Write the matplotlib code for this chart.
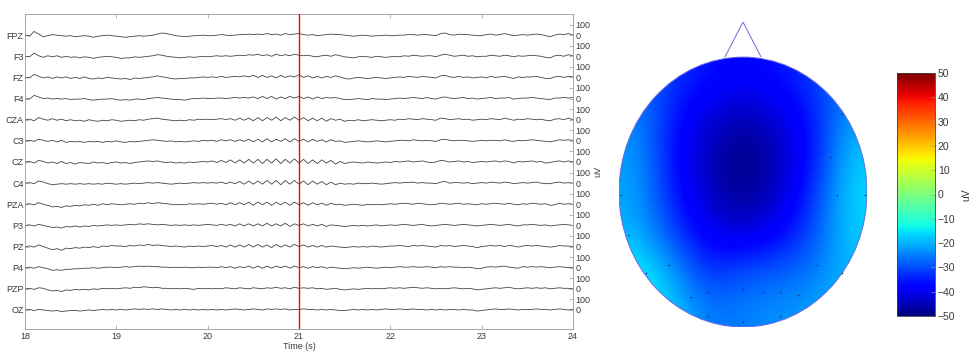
import numpy as np
import matplotlib
matplotlib.use("Agg")
import matplotlib.pyplot as plt
from matplotlib.patches import Ellipse, Polygon

plt.rcParams['font.family'] = ['Liberation Sans', 'DejaVu Sans']

# ---------------- data ----------------
channels = ["FPZ", "F3", "FZ", "F4", "CZA", "C3", "CZ", "C4",
            "PZA", "P3", "PZ", "P4", "PZP", "OZ"]
t_start, t_end, dt = 18.0, 24.0, 0.05
cursor_time = 21.0
channel_spacing = 200  # uV between traces

FPZ = [0, -10, 35, 10, -15, -5, 5, 0, -5, -10, -5,
       -15, -10, -5, -10, -20, -10, -5, 0, -5, -10,
       -15, -20, -15, -10, -5, -10, -5, 0, 10, 20,
       15, 5, -5, -10, -15, -10, -5, -5, 0, -5,
       -5, 0, 5, 0, -5, 0, 5, 5, 10, 5,
       10, 5, 15, 5, 10, 0, 15, 5, 10, 15,
       5, 0, 5, -5, 0, 5, 10, 5, 5, 0,
       -5, -10, -5, 0, -5, -10, -5, -5, 0, -5,
       -5, 0, 0, 5, 5, 0, 5, 5, 0, -5,
       15, 20, 5, 0, 10, 5, 5, 0, -5, -5,
       5, 10, 0, 5, 15, 5, -5, 0, 5, 0,
       5, 10, 5, -5, -15, 0, 10, 5, 15, 0]
F3 = [0, -5, 30, 5, -10, 5, -5, 5, -10, 0, -10,
      -5, -15, -5, -10, -20, -10, -5, 0, -5, -10,
      -20, -15, -15, -5, -10, -5, 0, 5, 15, 10,
      0, -5, -10, -15, -10, -5, -10, -5, 0, -5,
      0, 5, 0, 5, 0, 5, 10, 5, 15, 10,
      20, 5, 15, 0, 20, 5, 15, 5, 20, 10,
      5, 10, 0, -5, 5, 10, 0, 15, 5, -5,
      -10, -15, -5, 0, -5, -10, 0, -5, -10, -5,
      0, -5, 5, 0, 10, 5, 0, 5, 5, -5,
      10, 20, 10, 0, 5, 10, 0, 5, -5, 0,
      0, 10, 5, 0, 10, 5, -5, 5, 0, 5,
      10, 5, 0, -10, -15, 5, 10, 0, 15, 5]
FZ = [0, -5, 30, 10, -5, 5, -10, 5, -5, 5, -10,
      0, -10, 5, -10, -15, -5, -10, 0, -5, -10,
      -15, -10, -20, -5, -10, -5, 0, 5, 15, 5,
      0, -10, -15, -10, -10, -5, -5, 0, 5, 0,
      5, 0, 10, 0, 5, 10, 5, 15, 5, 20,
      0, 20, 0, 15, -5, 20, 0, 15, 5, 25,
      0, 15, -5, 10, -5, 10, 0, 15, 5, -10,
      -15, -5, 0, -5, -10, -5, 0, -5, -10, -5,
      0, 5, 0, 10, 5, 0, 10, 5, 0, -5,
      15, 20, 5, 0, 10, 0, 5, -5, 0, 5,
      -5, 10, 0, 5, 10, 0, -10, 5, 0, 5,
      5, 10, 0, -10, -10, 5, 10, 0, 10, 5]
F4 = [0, -5, 30, 15, 0, 5, -5, 0, -5, 0, -10,
      -5, -5, 0, -10, -15, -10, -5, -5, 0, -10,
      -15, -10, -15, -5, -5, -10, 0, 5, 10, 5,
      0, -5, -10, -10, -15, -5, 0, 0, 5, 0,
      0, 5, 5, 0, 5, 10, 5, 10, 5, 15,
      0, 20, 0, 20, -5, 15, 0, 20, 5, 20,
      0, 15, -5, 15, 0, 10, 5, 10, 0, -10,
      -10, -5, 0, -5, -10, 0, -5, -5, -10, -5,
      0, 5, 0, 5, 10, 5, 0, 10, 0, -5,
      10, 15, 5, 0, 5, 10, 0, 5, -5, 0,
      5, 10, 0, 5, 5, 10, -5, 0, 5, 5,
      10, 5, 0, -5, -10, 5, 5, 10, 5, 10]
CZA = [0, 5, -10, 20, 5, -5, 10, -5, 5, -10, 0,
       -10, -5, -15, 0, -10, -15, -5, -10, 0, -5,
       -15, -10, -5, -10, 0, -5, 5, 10, 15, 5,
       0, -5, -10, -5, -10, 0, -5, 5, 0, 5,
       0, 5, 10, 0, 10, -5, 15, -5, 15, -10,
       20, -10, 20, -5, 25, -10, 20, -5, 25, -5,
       20, -10, 15, -10, 15, -15, 10, -5, 5, -15,
       -5, -10, 0, -10, -5, 0, -5, -10, -5, 0,
       -5, 5, 0, 10, 5, 0, 10, 5, 0, -5,
       15, 10, 0, 5, 10, 0, 5, -5, 0, 5,
       0, 10, 5, 0, 15, 5, -5, 5, 0, 10,
       5, 0, 5, -5, -10, 5, 10, 0, 15, 0]
C3 = [0, 5, -5, 15, 5, -5, 5, -10, 5, -15, -5,
      -10, -5, -15, -5, -10, -5, -15, -5, -10, 0,
      -10, -15, -5, -10, -5, 0, 5, 10, 5, 0,
      -5, 0, -10, -5, -10, -5, 0, -5, 5, 0,
      5, -5, 10, 0, 10, -5, 10, -5, 15, -10,
      15, -10, 20, -10, 15, -5, 20, -10, 20, -5,
      15, -10, 15, -5, 10, -10, 10, -5, 0, -15,
      -10, -5, 0, -5, -10, -5, 0, -5, -10, -5,
      0, 5, 5, 0, 10, 5, 0, 5, 0, -5,
      10, 15, 5, 0, 5, 5, 0, -5, 0, 5,
      0, 5, 5, 0, 10, 0, -5, 5, 0, 5,
      10, 5, 0, -5, -10, 0, 10, 5, 10, 5]
CZ = [0, 5, -10, 15, 5, -10, 0, -15, 5, -15, -5,
      -20, -5, -10, -15, 0, -10, -5, -15, -5, 0,
      -10, -5, -15, -5, 0, 5, 10, 5, 10, 0,
      -5, 0, -10, -5, -10, 0, -5, 0, 5, 0,
      10, -5, 15, -5, 20, -10, 20, -10, 25, -10,
      25, -15, 25, -10, 30, -15, 25, -10, 30, -10,
      25, -15, 20, -15, 20, -10, 15, -20, 5, -15,
      -5, 0, -5, -10, 0, -5, -10, -5, 0, -5,
      5, 0, 5, 10, 0, 5, 10, 0, -5, 0,
      15, 10, 0, 5, 10, 0, 5, -5, 0, 5,
      0, 5, 10, 0, 10, 5, -10, 5, 0, 5,
      10, 0, 5, -10, -5, 5, 10, 0, 10, 0]
C4 = [0, 5, -5, 20, 10, -5, -15, -10, -5, -10, -5,
      -10, -5, -10, -5, -10, -5, -10, 0, -5, -10,
      -5, -10, -5, 0, -5, 0, 5, 0, 5, 0,
      -5, -10, -5, 0, -5, 0, 5, 0, 5, 0,
      5, 0, 10, -5, 10, -5, 15, -10, 20, -10,
      20, -10, 25, -10, 25, -15, 25, -10, 25, -10,
      20, -15, 20, -10, 15, -15, 10, -15, 0, -10,
      -5, -10, 0, -5, -5, 0, -5, -10, -5, 0,
      5, 0, 5, 5, 10, 0, 5, 0, 0, -5,
      10, 15, 0, 5, 5, 0, 5, -5, 0, 5,
      0, 10, 5, 0, 10, 5, -5, 0, 5, 0,
      5, 10, 0, -5, -5, 5, 10, 0, 5, 0]
PZA = [0, 5, -5, 15, 0, -10, -25, -20, -30, -15, -20,
       -10, -15, -5, -10, 0, -10, 5, -5, 5, 0,
       -5, 0, 5, 0, 10, 5, 15, 5, 15, 10,
       5, 0, -5, 0, -5, 5, 0, 5, 0, 5,
       10, 0, 10, -5, 15, -5, 15, -5, 20, -10,
       20, -5, 20, -10, 20, -5, 20, -10, 20, -5,
       15, -10, 15, -5, 10, -10, 10, -5, 0, -10,
       -5, 0, -5, -10, 0, -5, 0, -5, 0, 5,
       0, 5, 10, 5, 0, 10, 5, 0, -5, 0,
       10, 5, 0, 5, 10, 0, 5, 0, -5, 5,
       0, 5, 10, 5, 0, 10, 0, -5, 5, 0,
       10, 5, 0, 5, -10, -5, 10, 0, 5, 0]
P3 = [0, 5, -5, 10, 0, -10, -20, -15, -25, -10, -15,
      -5, -15, -5, -10, 0, -5, 0, 5, 0, 5,
      0, 5, 10, 5, 15, 10, 15, 10, 5, 10,
      5, 0, 5, 0, 5, 0, 5, 0, 5, 10,
      5, 0, 10, 0, 10, -5, 15, -5, 15, -5,
      15, -5, 20, -5, 15, -5, 20, -10, 15, 0,
      15, -5, 10, -5, 10, -10, 5, 0, -5, -10,
      -5, 0, -5, 0, -5, 0, 5, -5, 0, 5,
      0, 5, 10, 5, 0, 5, 10, 0, -5, 0,
      5, 10, 5, 0, 5, 10, 5, 0, -5, 0,
      5, 10, 5, 0, 5, 10, 0, -5, 5, 5,
      10, 5, 0, 5, -5, 0, 5, 10, 5, 0]
PZ = [0, 5, -5, 15, 0, -15, -30, -20, -35, -15, -20,
      -10, -15, -5, -10, 0, -10, 5, 0, 10, 5,
      5, 0, 10, 5, 15, 10, 20, 10, 15, 10,
      5, 0, 5, 0, -5, 5, 0, 5, 0, 5,
      10, 0, 10, -5, 15, -5, 15, -5, 20, -5,
      20, -5, 15, -10, 20, -5, 15, -5, 20, 0,
      15, -5, 10, -5, 10, -5, 5, 0, -5, -10,
      -5, 0, -5, 0, -5, 5, 0, -5, 0, 5,
      5, 10, 5, 0, 10, 5, 10, 5, 0, -5,
      10, 5, 10, 0, 5, 10, 5, 0, -10, 0,
      5, 10, 5, 10, 0, 10, 5, -5, 5, 10,
      5, 10, 5, 0, -5, 0, 10, 5, 5, 0]
P4 = [0, 5, -5, 10, 0, -10, -25, -20, -25, -15, -15,
      -10, -10, -5, -5, 0, -5, 0, 5, 5, 0,
      5, 10, 5, 10, 15, 10, 15, 10, 10, 5,
      5, 0, 5, 0, 5, 0, 0, 5, 0, 5,
      5, 0, 10, 0, 10, -5, 10, 0, 15, -5,
      15, -5, 15, -5, 15, 0, 15, -5, 15, 0,
      10, -5, 10, 0, 10, -5, 5, 0, -5, -10,
      -5, 0, -5, 0, 5, 0, -5, 0, 5, 0,
      5, 10, 5, 5, 10, 5, 5, 10, 5, 0,
      10, 5, 10, 5, 5, 0, 5, 0, -10, -5,
      5, 10, 5, 10, 15, 5, 0, -5, 10, 5,
      10, 5, 10, 5, 0, 5, 10, 5, 0, 5]
PZP = [0, 5, -5, 10, 5, -10, -20, -15, -25, -10, -15,
       -5, -10, -5, -10, 0, -5, 5, 0, 5, 0,
       5, 10, 5, 15, 10, 20, 15, 10, 15, 5,
       5, 0, 5, 0, 5, 0, -5, 5, 0, 5,
       0, 5, 0, 10, 5, 0, 10, 5, 0, 10,
       5, 0, 10, 5, 15, 5, 10, 0, 15, 5,
       10, 5, 10, 0, 5, -5, 0, 5, -5, -10,
       -5, 0, -5, 0, 5, 0, 5, 0, 5, 10,
       5, 10, 5, 10, 15, 10, 5, 10, 5, 0,
       5, 0, 5, 10, 5, 0, 5, 0, -10, -5,
       0, 5, 10, 5, 10, 15, 5, 0, 5, 10,
       5, 10, 5, 10, 0, 5, 10, 5, 5, 0]
OZ = [0, 5, -5, 5, 0, -5, -10, -5, -15, -10, -5,
      -5, -10, -5, 0, -5, 0, 5, 0, 5, 0,
      5, 0, 5, 10, 5, 10, 5, 10, 5, 10,
      5, 0, 5, 0, 5, 0, 5, 0, 5, 0,
      5, 0, 5, 0, 5, 10, 5, 0, 5, 10,
      5, 0, 10, 5, 10, 5, 10, 0, 5, 5,
      10, 5, 5, 0, 5, 0, 5, 0, -5, -5,
      0, 5, 0, 5, 0, 5, 0, 5, 10, 5,
      5, 10, 5, 5, 10, 5, 5, 0, 5, 0,
      5, 0, 5, 5, 0, 5, 0, 0, -10, -5,
      0, 5, 10, 5, 5, 10, 5, 0, 5, 5,
      5, 10, 5, 5, 0, 5, 10, 5, 0, 5]
signals = [FPZ, F3, FZ, F4, CZA, C3, CZ, C4, PZA, P3, PZ, P4, PZP, OZ]

x_ticks = [18, 19, 20, 21, 22, 23, 24]

# topographic map: values (uV) on a 7x7 grid, top row = front of head
topo_grid = [
    [-26, -32, -36, -38, -36, -32, -25],
    [-24, -35, -42, -45, -42, -35, -22],
    [-22, -36, -45, -50, -45, -36, -18],
    [-21, -35, -44, -49, -44, -33, -16],
    [-20, -31, -40, -43, -39, -30, -17],
    [-13, -22, -34, -30, -29, -26, -19],
    [-11, -17, -26, -25, -23, -22, -18],
]
elec_x = [0.30, 0.40, -0.39, -0.21, -0.145, 0.0, 0.08, 0.15, 0.22, 0.30,
          0.40, -0.14, 0.0, 0.15, 0.49, -0.49, -0.46, -0.30, 0.35, 0.38]
elec_y = [0.26, 0.29, -0.30, -0.39, -0.37, -0.36, -0.37, -0.37, -0.38, -0.27,
          -0.30, -0.46, -0.48, -0.46, -0.01, -0.01, -0.16, -0.27, 0.13, -0.01]
cbar_ticks = [-50, -40, -30, -20, -10, 0, 10, 20, 30, 40, 50]
clim = (-50, 50)

# ---------------- figure ----------------
W, H = 975, 363
fig = plt.figure(figsize=(W / 100, H / 100), dpi=100)

def px_axes(l, t, r, b):
    return fig.add_axes([l / W, 1 - b / H, (r - l) / W, (b - t) / H])

txt = '#3a3a3a'
spine_c = '#9a9a9a'
fs = 6.5

# --- EEG traces ---
ax = px_axes(25, 14, 573, 329)
n = len(channels)
time = np.arange(len(FPZ)) * dt + t_start
baselines = [(n - 1 - i) * channel_spacing for i in range(n)]
for sig, base in zip(signals, baselines):
    ax.plot(time, np.asarray(sig) + base, color='#444444', lw=0.6, zorder=2)
ax.axvline(cursor_time, color='#ff0000', lw=1.0, zorder=3)
ax.set_xlim(t_start, t_end)
ax.set_ylim(-180, (n - 1) * channel_spacing + 200)
ax.set_yticks(baselines)
ax.set_yticklabels(channels)
ax.set_xticks(x_ticks)
ax.set_xticklabels([str(v) for v in x_ticks])
ax.tick_params(axis='both', direction='in', length=3, width=0.5, colors=spine_c,
               labelcolor=txt, labelsize=fs, pad=2, top=True)
ax.tick_params(axis='y', pad=1)
ax.set_xlabel('Time (s)', fontsize=fs, color=txt, labelpad=1)
for s in ax.spines.values():
    s.set_color(spine_c)
    s.set_linewidth(0.6)

ax2 = ax.twinx()
ax2.set_ylim(ax.get_ylim())
rt, rl = [], []
for b in baselines:
    rt += [b, b + 100]
    rl += ['0', '100']
ax2.set_yticks(rt)
ax2.set_yticklabels(rl)
ax2.tick_params(axis='y', direction='in', length=3, width=0.5, colors=spine_c,
                labelcolor=txt, labelsize=fs, pad=2)
ax2.set_ylabel('uV', fontsize=fs, color=txt, rotation=90, labelpad=2)
for s in ax2.spines.values():
    s.set_visible(False)

# --- topographic map ---
tax = px_axes(619, 22, 867, 327)
tax.set_xlim(-0.5, 0.5)
tax.set_ylim(-0.5, 0.63)
tax.axis('off')
grid = np.asarray(topo_grid, dtype=float)
im = tax.imshow(grid, cmap='jet', vmin=clim[0], vmax=clim[1],
                extent=(-0.5, 0.5, -0.5, 0.5), origin='upper',
                interpolation='bicubic', aspect='auto')
head = Ellipse((0, 0), 1.0, 1.0, transform=tax.transData,
               facecolor='none', edgecolor='#6a6ae0', lw=0.7)
tax.add_patch(head)
im.set_clip_path(head)
nose = Polygon([[-0.073, 0.5], [0.0, 0.63], [0.073, 0.5]], closed=False,
               fill=False, edgecolor='#6a6ae0', lw=0.7)
tax.add_patch(nose)
tax.scatter(elec_x, elec_y, s=1.2, color='#202060', zorder=3, linewidths=0)

# --- colorbar ---
cax = px_axes(897, 73, 935, 316)
cb = fig.colorbar(im, cax=cax, ticks=cbar_ticks)
cb.outline.set_linewidth(0.6)
cb.outline.set_edgecolor('#404040')
cax.tick_params(direction='in', length=3, width=0.5, colors=spine_c,
                labelcolor=txt, labelsize=7.5, pad=2)
cb.set_label('uV', fontsize=7.5, color=txt, rotation=90, labelpad=4)

fig.savefig('out.png', dpi=100)
